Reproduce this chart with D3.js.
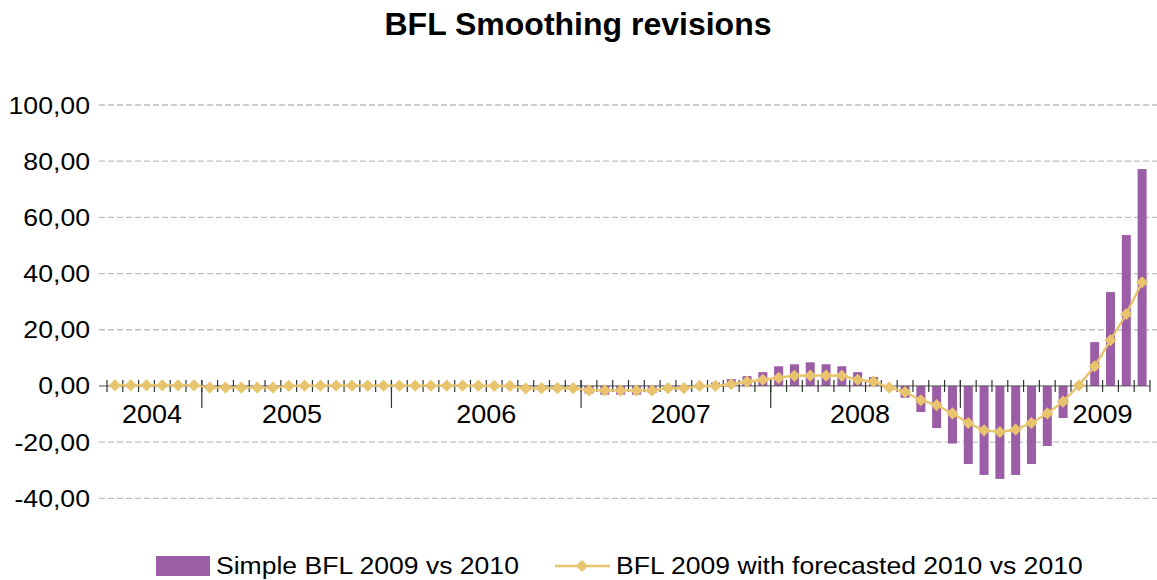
<!DOCTYPE html>
<html>
<head>
<meta charset="utf-8">
<script src="https://cdn.jsdelivr.net/npm/d3@7"></script>
<style>
  html, body { margin: 0; padding: 0; background: #ffffff; }
  svg { display: block; font-family: "Liberation Sans", Arial, sans-serif; }
</style>
</head>
<body>
<svg id="chart" width="1157" height="580"></svg>
<script>
// ---------- data ----------
const title = "BFL Smoothing revisions";
const seriesNames = ["Simple BFL 2009 vs 2010", "BFL 2009 with forecasted 2010 vs 2010"];
// monthly categories Jul 2004 .. Dec 2009
const months = d3.timeMonth.range(new Date(2004, 6, 1), new Date(2010, 0, 1)).map(d3.timeFormat("%Y-%m"));
const years = ["2004", "2005", "2006", "2007", "2008", "2009"];
const yTicks = [-40, -20, 0, 20, 40, 60, 80, 100];

// Simple BFL 2009 vs 2010 (bars)
const simpleBFL = [
  0.1, 0.1, 0.1, 0.1, 0.1, 0.1,                       // 2004 Jul-Dec
  -0.5, -0.5, -0.5, -0.5, -0.5, -0.1, 0.1, 0.1, 0.1, 0.1, 0.1, 0.1, // 2005
  0.1, 0.1, 0.1, 0.1, 0.1, 0.1, -0.3, -0.3, -0.8, -0.8, -1.3, -1.3, // 2006
  -2.7, -3.1, -3.1, -3.1, -2.5, -1.5, -1.2, 0.3, 1.2, 2.4, 3.5, 4.9, // 2007
  7.0, 7.7, 8.4, 7.7, 7.0, 4.9, 3.2, -0.8, -4.2, -9.3, -15.0, -20.5, // 2008
  -27.8, -31.7, -33.1, -31.7, -27.8, -21.4, -11.4, 0.3, 15.6, 33.4, 53.7, 77.2 // 2009
];
// BFL 2009 with forecasted 2010 vs 2010 (line)
const forecastBFL = [
  0.2, 0.2, 0.2, 0.2, 0.2, 0.2,
  -0.6, -0.6, -0.6, -0.6, -0.6, 0.0, 0.1, 0.1, 0.1, 0.1, 0.1, 0.1,
  0.1, 0.1, 0.1, 0.1, 0.1, 0.1, 0.0, 0.0, -0.9, -0.8, -0.8, -0.8,
  -1.6, -1.6, -1.6, -1.6, -1.6, -0.8, -0.8, 0.0, 0.0, 0.6, 1.5, 2.2,
  2.9, 3.6, 3.7, 3.7, 3.6, 2.2, 1.5, -0.6, -2.2, -5.1, -6.8, -9.8,
  -13.2, -15.8, -16.4, -15.5, -13.2, -9.8, -5.6, 0.2, 7.0, 16.3, 25.6, 36.9
];

// ---------- layout ----------
const barColor = "#9B5DA5";
const lineColor = "#E8C46E";
const plotLeft = 99, plotRight = 1157, catLeft = 107, catRight = 1150;
const yearLabelAt = [2.85, 11.7, 24.0, 36.3, 47.65, 63.0]; // label anchor in category units

const svg = d3.select("#chart");

const x = d3.scaleBand().domain(months).range([catLeft, catRight]).paddingInner(0.43).paddingOuter(0.215);
const step = x.step();
const cx = m => x(m) + x.bandwidth() / 2;
const y = d3.scaleLinear().domain([-40, 100]).range([498.3, 105]);

// stretched text helper (reference glyphs are horizontally wider)
function stext(g, tx, ty, str, size, anchor, sx) {
  return g.append("text")
    .attr("transform", `translate(${tx},${ty}) scale(${sx},1)`)
    .attr("text-anchor", anchor).attr("font-size", size).attr("fill", "#000").text(str);
}

// title
svg.append("text").attr("x", 578).attr("y", 35).attr("text-anchor", "middle")
  .attr("font-size", 32).attr("font-weight", "bold").attr("fill", "#000").text(title);

// gridlines
svg.append("g").selectAll("line").data(yTicks.filter(v => v !== 0)).join("line")
  .attr("x1", plotLeft).attr("x2", plotRight)
  .attr("y1", d => y(d)).attr("y2", d => y(d))
  .attr("stroke", "#BFBFBF").attr("stroke-width", 1.3).attr("stroke-dasharray", "6,3");

// y labels
const fmt = v => d3.format(".2f")(v).replace(".", ",").replace("−", "-");
const yl = svg.append("g");
yTicks.forEach(v => stext(yl, 90, y(v) + 8.5, fmt(v), 24, "end", 1.11));

// bars
svg.append("g").selectAll("rect").data(simpleBFL).join("rect")
  .attr("x", (d, i) => x(months[i])).attr("width", x.bandwidth())
  .attr("y", d => Math.min(y(d), y(0))).attr("height", d => Math.abs(y(d) - y(0)))
  .attr("fill", barColor);

// x axis
const axisG = svg.append("g");
axisG.append("line").attr("x1", plotLeft).attr("x2", catRight).attr("y1", y(0)).attr("y2", y(0))
  .attr("stroke", "#555").attr("stroke-width", 1);
const bounds = d3.range(months.length + 1);
axisG.selectAll("line.minor").data(bounds).join("line").attr("class", "minor")
  .attr("x1", i => catLeft + i * step).attr("x2", i => catLeft + i * step)
  .attr("y1", y(0) - 6).attr("y2", y(0) + 6).attr("stroke", "#333").attr("stroke-width", 1.2);
const yearStarts = months.map((m, i) => [m, i]).filter(([m]) => m.endsWith("-01")).map(([, i]) => i);
axisG.selectAll("line.major").data(yearStarts).join("line").attr("class", "major")
  .attr("x1", i => catLeft + i * step).attr("x2", i => catLeft + i * step)
  .attr("y1", y(0) - 6).attr("y2", y(0) + 22).attr("stroke", "#333").attr("stroke-width", 1.2);
years.forEach((yr, i) => stext(axisG, catLeft + yearLabelAt[i] * step, y(0) + 37, yr, 25, "middle", 1.08));

// line + markers
const line = d3.line().x((d, i) => cx(months[i])).y(d => y(d));
svg.append("path").datum(forecastBFL).attr("d", line)
  .attr("fill", "none").attr("stroke", lineColor).attr("stroke-width", 2.4);
const diamond = d3.symbol().type(d3.symbolDiamond2).size(95);
svg.append("g").selectAll("path").data(forecastBFL).join("path")
  .attr("transform", (d, i) => `translate(${cx(months[i])},${y(d)})`)
  .attr("d", diamond).attr("fill", lineColor);

// legend
const lg = svg.append("g");
lg.append("rect").attr("x", 156).attr("y", 556).attr("width", 54).attr("height", 20).attr("fill", barColor);
stext(lg, 216, 574, seriesNames[0], 24, "start", 1.106);
lg.append("line").attr("x1", 555).attr("x2", 610).attr("y1", 566).attr("y2", 566)
  .attr("stroke", lineColor).attr("stroke-width", 2.4);
lg.append("path").attr("transform", "translate(582,566)").attr("d", diamond).attr("fill", lineColor);
stext(lg, 616, 574, seriesNames[1], 24, "start", 1.106);
</script>
</body>
</html>
